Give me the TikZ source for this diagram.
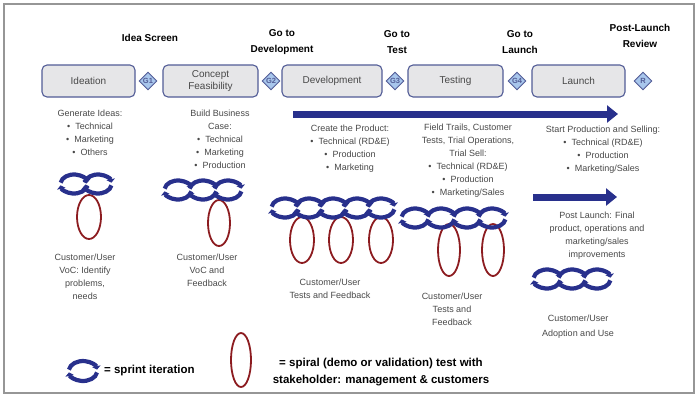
\documentclass[tikz,border=0pt]{standalone}
\usepackage{fontspec}
\setmainfont{Liberation Sans}
\usetikzlibrary{arrows.meta,shapes.geometric,positioning}
\definecolor{sprintblue}{RGB}{40,48,140}
\definecolor{spiralred}{RGB}{140,28,32}
\definecolor{stagegray}{RGB}{230,230,232}
\definecolor{stageline}{RGB}{82,92,150}
\definecolor{gatefill}{RGB}{168,198,236}
\definecolor{bodytext}{RGB}{72,72,72}
\definecolor{framegray}{RGB}{150,150,150}
\tikzset{
  stage/.style={draw=stageline, fill=stagegray, rounded corners=5pt, line width=1.1pt,
    minimum height=32pt, inner sep=0pt, align=center, text=bodytext,
    font=\fontsize{10}{12}\selectfont},
  gate/.style={diamond, draw=stageline, fill=gatefill, line width=0.9pt, minimum size=18pt,
    inner sep=0pt, text=stageline, font=\fontsize{7.5}{8}\selectfont\bfseries},
  gatelabel/.style={align=center, font=\fontsize{10}{15.5}\selectfont\bfseries},
  coltext/.style={anchor=north, align=center, inner sep=0pt, text=bodytext,
    font=\fontsize{9}{13}\selectfont},
  legendtext/.style={align=center, inner sep=0pt, font=\fontsize{11.5}{17}\selectfont\bfseries},
  bigarrow/.style={draw=sprintblue, line width=7pt, -{Triangle[length=11pt,width=17pt]}},
  sprintline/.style={draw=sprintblue, line width=4.2pt, -{Triangle[length=3.5pt,width=8.5pt]}},
  spiral/.style={draw=spiralred, line width=1.8pt},
  sprint/.pic={
    \draw[sprintline] (188:13.5 and 9.5) arc[start angle=188, end angle=352, x radius=13.5, y radius=9.5];
    \draw[sprintline] (8:13.5 and 9.5) arc[start angle=8, end angle=172, x radius=13.5, y radius=9.5];
  }
}

\begin{document}
\begin{tikzpicture}[x=1pt, y=-1pt]
	\useasboundingbox (0,0) rectangle (698,400);
	\draw[framegray, line width=1.5pt] (4,4) rectangle (694,393);

	% gate labels
	\node [gatelabel] (lblscreen) at (150, 38) {Idea Screen};
	\node [gatelabel] (lbldev) at (282, 42) {Go to\\Development};
	\node [gatelabel] (lbltest) at (397, 42) {Go to\\Test};
	\node [gatelabel] (lbllaunch) at (520, 42) {Go to\\Launch};
	\node [gatelabel] (lblreview) at (640, 36) {Post-Launch\\Review};

	% stages and gates
	\node [stage, minimum width=93pt] (ideation) at (88.5, 81) {Ideation};
	\node [stage, minimum width=95pt, font=\fontsize{10}{11.5}\selectfont] (concept) at (210.5, 81) {Concept\\Feasibility};
	\node [stage, minimum width=100pt] (development) at (332, 81) {Development};
	\node [stage, minimum width=95pt] (testing) at (455.5, 81) {Testing};
	\node [stage, minimum width=93pt] (launch) at (578.5, 81) {Launch};
	\node [gate] (g1) at (148, 81) {G1};
	\node [gate] (g2) at (271, 81) {G2};
	\node [gate] (g3) at (395, 81) {G3};
	\node [gate] (g4) at (517, 81) {G4};
	\node [gate] (gr) at (643, 81) {R};

	% arrows
	\coordinate (mainstart) at (293, 114);
	\coordinate (mainend) at (618, 114);
	\draw [bigarrow] (mainstart) -- (mainend);
	\coordinate (poststart) at (533, 197);
	\coordinate (postend) at (617, 197);
	\draw [bigarrow] (poststart) -- (postend);

	% activity texts
	\node [coltext] (ideatxt) at (90, 110) {Generate Ideas:\\\textbullet\ \ Technical\\\textbullet\ \ Marketing\\\textbullet\ \ Others};
	\node [coltext] (concepttxt) at (220, 110) {Build Business\\Case:\\\textbullet\ \ Technical\\\textbullet\ \ Marketing\\\textbullet\ \ Production};
	\node [coltext] (devtxt) at (350, 125) {Create the Product:\\\textbullet\ \ Technical (RD\&E)\\\textbullet\ \ Production\\\textbullet\ \ Marketing};
	\node [coltext] (testtxt) at (468, 124) {Field Trails, Customer\\Tests, Trial Operations,\\Trial Sell:\\\textbullet\ \ Technical (RD\&E)\\\textbullet\ \ Production\\\textbullet\ \ Marketing/Sales};
	\node [coltext] (launchtxt) at (603, 126) {Start Production and Selling:\\\textbullet\ \ Technical (RD\&E)\\\textbullet\ \ Production\\\textbullet\ \ Marketing/Sales};
	\node [coltext] (posttxt) at (597, 212) {Post Launch: Final\\product, operations and\\marketing/sales\\improvements};

	% spirals behind the sprints
	\draw [spiral] (89, 217) ellipse [x radius=12, y radius=22];
	\draw [spiral] (219, 223) ellipse [x radius=11, y radius=23];
	\draw [spiral] (302, 240) ellipse [x radius=12, y radius=23];
	\draw [spiral] (341, 240) ellipse [x radius=12, y radius=23];
	\draw [spiral] (381, 240) ellipse [x radius=12, y radius=23];
	\draw [spiral] (449, 250) ellipse [x radius=11, y radius=26];
	\draw [spiral] (493, 250) ellipse [x radius=11, y radius=26];

	% sprint chains
	\pic (ideas1) at (74, 184) {sprint};
	\pic (ideas2) at (98, 184) {sprint};
	\pic (concs1) at (178, 190) {sprint};
	\pic (concs2) at (203, 190) {sprint};
	\pic (concs3) at (228, 190) {sprint};
	\pic (devs1) at (285, 208) {sprint};
	\pic (devs2) at (309, 208) {sprint};
	\pic (devs3) at (333, 208) {sprint};
	\pic (devs4) at (357, 208) {sprint};
	\pic (devs5) at (381, 208) {sprint};
	\pic (tests1) at (415, 218) {sprint};
	\pic (tests2) at (441, 218) {sprint};
	\pic (tests3) at (467, 218) {sprint};
	\pic (tests4) at (492, 218) {sprint};
	\pic (launchs1) at (547, 279) {sprint};
	\pic (launchs2) at (572, 279) {sprint};
	\pic (launchs3) at (597, 279) {sprint};

	% feedback texts
	\node [coltext] (ideavoc) at (85, 254) {Customer/User\\VoC: Identify\\problems,\\needs};
	\node [coltext] (conceptvoc) at (207, 254) {Customer/User\\VoC and\\Feedback};
	\node [coltext] (devfb) at (330, 279) {Customer/User\\Tests and Feedback};
	\node [coltext] (testfb) at (452, 293) {Customer/User\\Tests and\\Feedback};
	\node [coltext, font=\fontsize{9}{15}\selectfont] (launchuse) at (578, 315) {Customer/User\\Adoption and Use};

	% legend
	\pic[scale=1.05] (legendsprint) at (83, 371) {sprint};
	\node [legendtext, anchor=west] (sprintkey) at (104, 371) {= sprint iteration};
	\draw [spiral] (241, 360) ellipse [x radius=10, y radius=27];
	\node [legendtext] (spiralkey) at (381, 372) {= spiral (demo or validation) test with\\stakeholder: management \& customers};
\end{tikzpicture}
\end{document}
